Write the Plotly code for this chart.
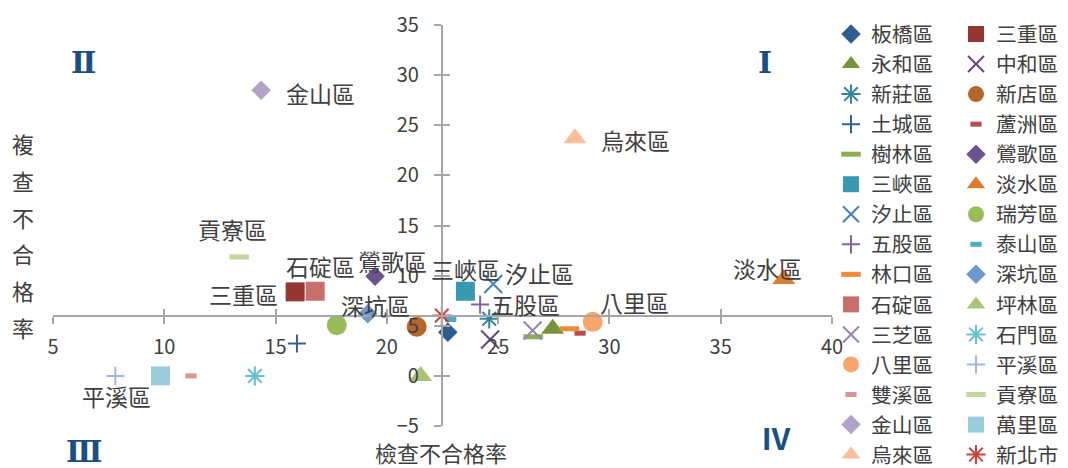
import plotly.graph_objects as go

# ---------------- data ----------------
districts = ["板橋區", "三重區", "永和區", "中和區", "新莊區", "新店區", "土城區", "蘆洲區",
             "樹林區", "鶯歌區", "三峽區", "淡水區", "汐止區", "瑞芳區", "五股區", "泰山區",
             "林口區", "深坑區", "石碇區", "坪林區", "三芝區", "石門區", "八里區", "平溪區",
             "雙溪區", "貢寮區", "金山區", "萬里區", "烏來區", "新北市"]
inspect_fail = [22.74, 15.88, 27.45, 24.64, 24.60, 21.34, 15.96, 28.68,
                26.58, 19.47, 23.53, 37.84, 24.78, 17.75, 24.19, 22.87,
                28.20, 19.14, 16.78, 21.52, 26.55, 14.07, 29.25, 7.80,
                11.20, 13.37, 14.35, 9.83, 28.45, 22.47]
recheck_fail = [4.36, 8.38, 4.70, 3.63, 5.69, 4.90, 3.23, 4.26,
                3.90, 9.93, 8.44, 9.67, 9.17, 5.06, 7.11, 5.62,
                4.70, 6.19, 8.44, 0.00, 4.53, 0.00, 5.39, 0.00,
                0.00, 11.86, 28.50, 0.00, 23.70, 6.02]
x_ticks = [5, 10, 15, 20, 25, 30, 35, 40]
y_ticks = [-5, 0, 5, 10, 15, 20, 25, 30, 35]
labelled = ["金山區", "烏來區", "貢寮區", "三重區", "石碇區", "鶯歌區", "深坑區", "三峽區",
            "汐止區", "五股區", "八里區", "淡水區", "平溪區"]
quadrants = ["Ⅰ", "Ⅱ", "Ⅲ", "Ⅳ"]
x_title = "檢查不合格率"
y_title = "複查不合格率"

# ---------------- styles ----------------
colors = ["#2C5D8E", "#943634", "#77933C", "#604A7B", "#31859C", "#B8652B", "#376092", "#BE4B48",
          "#90AD52", "#6B548D", "#3999B1", "#E07C2C", "#4A7EBB", "#9BBB59", "#8064A2", "#4BACC6",
          "#EE8A3C", "#6F98CC", "#C86F6D", "#A9C475", "#9983B5", "#6BBCD0", "#F8A66C", "#A3B9DA",
          "#D99694", "#C3D69B", "#B3A2C7", "#9BCCDA", "#F9BE9A", "#C9413F"]
kinds = ["diamond", "square", "triangle", "x", "asterisk", "circle", "plus", "short",
         "long", "diamond", "square", "triangle", "x", "circle", "plus", "short",
         "long", "diamond", "square", "triangle", "x", "asterisk", "circle", "plus",
         "short", "long", "diamond", "square", "triangle", "asterisk"]
kind_style = {
    "diamond": ("diamond", 15, 0),
    "square": ("square", 19, 0),
    "triangle": ("triangle-up", 20, 0),
    "circle": ("circle", 20, 0),
    "x": ("x-thin", 18, 2),
    "asterisk": ("asterisk", 16, 2),
    "plus": ("cross-thin", 13, 2),
    "short": ("line-ew", 8, 5),
    "long": ("line-ew", 14, 5),
}
label_shift = {
    "金山區": (59, -3), "烏來區": (61, -2), "貢寮區": (-7, 28), "三重區": (-52, -2),
    "石碇區": (5, 25), "鶯歌區": (17, 15), "深坑區": (8, 9), "三峽區": (0, 22),
    "汐止區": (46, 11), "五股區": (45, 1), "八里區": (42, 20), "淡水區": (-16, 11),
    "平溪區": (1, -20),
}

FONT = "Noto Sans CJK TC, Noto Sans, sans-serif"
SERIF = "DejaVu Serif, Liberation Serif, serif"
TXT = "#404040"
AXC = "#A6A6A6"

# the page body has an 8px margin: work in window pixels and convert
OFF = 8
W, H = 1068 - OFF, 468 - OFF
PX0, PX1, PY0, PY1 = 53, 832, 25, 426          # plot area in window pixels
ML, MT = PX0 - OFF, PY0 - OFF
MR, MB = W - (PX1 - OFF), H - (PY1 - OFF)
PW, PH = PX1 - PX0, PY1 - PY0

fig = go.Figure()
for i, name in enumerate(districts):
    sym, size, lw = kind_style[kinds[i]]
    fig.add_trace(go.Scatter(
        x=[inspect_fail[i]], y=[recheck_fail[i]], mode="markers", name=name,
        marker=dict(symbol=sym, size=size, color=colors[i],
                    line=dict(color=colors[i], width=lw)),
        legend="legend" if i % 2 == 0 else "legend2",
        hoverinfo="name+x+y",
    ))

# overlay axes for the inner half of crossing tick marks
fig.add_trace(go.Scatter(x=[None], y=[None], xaxis="x2", yaxis="y2",
                         showlegend=False, hoverinfo="skip"))

nb = districts.index("新北市")
cx, cy = inspect_fail[nb], recheck_fail[nb]
xr = [x_ticks[0], x_ticks[-1]]
yr = [y_ticks[0], y_ticks[-1]]
xpos = (cy - yr[0]) / (yr[1] - yr[0])
ypos = (cx - xr[0]) / (xr[1] - xr[0])

axis_common = dict(showgrid=False, zeroline=False, showline=True, linecolor=AXC,
                   linewidth=2, ticks="outside", ticklen=7, tickwidth=2, tickcolor=AXC,
                   tickfont=dict(family=FONT, size=20, color=TXT), fixedrange=True)
inner_ticks = dict(showgrid=False, zeroline=False, showline=False, ticks="inside", ticklen=7,
                   tickwidth=2, tickcolor=AXC, showticklabels=False, fixedrange=True)

legend_common = dict(xref="container", yref="container", y=1 - 6 / H,
                     xanchor="left", yanchor="top", orientation="v", maxheight=470,
                     font=dict(family=FONT, size=20.8, color=TXT), bgcolor="rgba(0,0,0,0)",
                     tracegroupgap=0)

fig.update_layout(
    width=W, height=H, autosize=False,
    margin=dict(l=ML, r=MR, t=MT, b=MB, autoexpand=False),
    paper_bgcolor="white", plot_bgcolor="white",
    font=dict(family=FONT, color=TXT),
    xaxis=dict(range=xr, tickvals=x_ticks, anchor="free", position=xpos,
               ticklabelstandoff=6, **axis_common),
    yaxis=dict(range=yr, tickvals=y_ticks, anchor="free", position=ypos,
               ticklabelstandoff=11, **axis_common),
    xaxis2=dict(range=xr, tickvals=x_ticks, overlaying="x", anchor="free", position=xpos,
                **inner_ticks),
    yaxis2=dict(range=yr, tickvals=y_ticks, overlaying="y", anchor="free", position=ypos,
                **inner_ticks),
    legend=dict(x=(831 - OFF) / W, **legend_common),
    legend2=dict(x=(956 - OFF) / W, **legend_common),
    showlegend=True,
)

# point labels
for name in labelled:
    i = districts.index(name)
    dx, dy = label_shift[name]
    fig.add_annotation(x=inspect_fail[i], y=recheck_fail[i], xref="x", yref="y",
                       text=name, showarrow=False, xshift=dx, yshift=dy,
                       xanchor="center", yanchor="middle",
                       font=dict(family=FONT, size=23, color=TXT))


def px_to_paper(px, py):
    return (px - PX0) / PW, 1 - (py - PY0) / PH


# quadrant marks
quad_pos = {"Ⅰ": (765, 63), "Ⅱ": (83, 63), "Ⅲ": (84, 451), "Ⅳ": (776, 437)}
quad_font = {"Ⅰ": SERIF, "Ⅱ": SERIF, "Ⅲ": SERIF, "Ⅳ": FONT}
for q in quadrants:
    ax, ay = px_to_paper(*quad_pos[q])
    fig.add_annotation(x=ax, y=ay, xref="paper", yref="paper",
                       text=f"<b>{q}</b>", showarrow=False,
                       xanchor="center", yanchor="middle",
                       font=dict(family=quad_font[q], size=30, color="#1B4F82"))

# axis titles
ax, ay = px_to_paper(441, 452)
fig.add_annotation(x=ax, y=ay, xref="paper", yref="paper",
                   text=x_title, showarrow=False, xanchor="center", yanchor="middle",
                   font=dict(family=FONT, size=22, color=TXT))
for k, ch in enumerate(y_title):
    ax, ay = px_to_paper(23, 143 + 36.8 * k)
    fig.add_annotation(x=ax, y=ay, xref="paper", yref="paper",
                       text=ch, showarrow=False, xanchor="center", yanchor="middle",
                       font=dict(family=FONT, size=22, color=TXT))

fig.write_html("out.html")
